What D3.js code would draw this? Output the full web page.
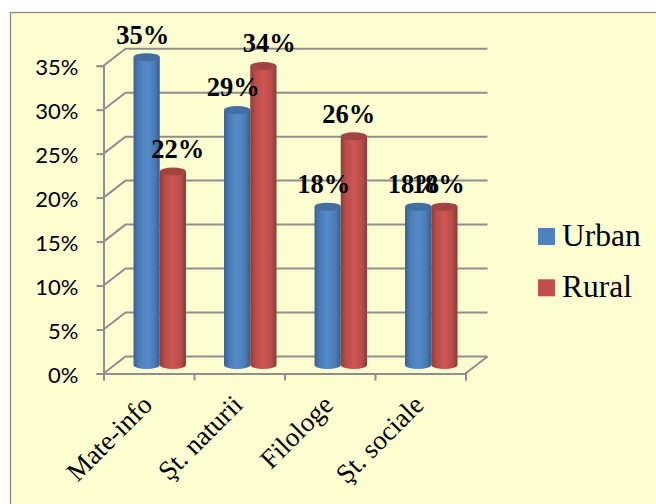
<!DOCTYPE html>
<html>
<head>
<meta charset="utf-8">
<script src="https://cdn.jsdelivr.net/npm/d3@7"></script>
<style>
  html, body { margin: 0; padding: 0; background: #fff; }
  svg { display: block; }
</style>
</head>
<body>
<div id="chart"></div>
<script>
// Chart values
var categories = ["Mate-info", "Şt. naturii", "Filologe", "Şt. sociale"];
var urban = [35, 29, 18, 18];
var rural = [22, 34, 26, 18];
var seriesNames = ["Urban", "Rural"];
var yTicks = [0, 5, 10, 15, 20, 25, 30, 35];

// hand-placed label shifts, same as in the source chart
var urbanLabelShift = [-4, -4, -4, -4];
var ruralLabelShift = [5, 6, -5, -6];

var width = 656, height = 504;
var colors = { Urban: "#4f81bd", Rural: "#c0504d" };
var gridColor = "#8e8e8e";
var depthX = 22, depthY = 17;
var plot = { left: 103.5, right: 465.5, top: 65.7, bottom: 373.5 };

var svg = d3.select("#chart").append("svg")
  .attr("width", width)
  .attr("height", height);

var defs = svg.append("defs");
seriesNames.forEach(function(name) {
  var base = d3.color(colors[name]);
  var grad = defs.append("linearGradient").attr("id", "grad" + name);
  grad.append("stop").attr("offset", "0%").attr("stop-color", base.darker(0.8));
  grad.append("stop").attr("offset", "20%").attr("stop-color", base.darker(0.1));
  grad.append("stop").attr("offset", "50%").attr("stop-color", base.brighter(0.2));
  grad.append("stop").attr("offset", "80%").attr("stop-color", base.darker(0.1));
  grad.append("stop").attr("offset", "100%").attr("stop-color", base.darker(0.9));
});

// Background panel
svg.append("rect")
  .attr("x", 10.5).attr("y", 12.5)
  .attr("width", width + 20).attr("height", height + 20)
  .attr("fill", "#fcfed2")
  .attr("stroke", "#8a8a8a")
  .attr("stroke-width", 1.3);

// Scales
var yScale = d3.scaleLinear().domain([0, 35]).range([plot.bottom, plot.top]);
var xEdge = d3.scaleLinear().domain([0, categories.length]).range([plot.left, plot.right]);

// bars stand half way into the depth of the floor
var xBand = d3.scaleBand()
  .domain(categories)
  .range([plot.left + depthX / 2, plot.right + depthX / 2])
  .paddingInner(0.42)
  .paddingOuter(0.21);
var xInner = d3.scaleBand().domain(seriesNames).range([0, xBand.bandwidth()]);

// Back wall and side wall grid
var grid = svg.append("g")
  .attr("fill", "none")
  .attr("stroke", gridColor)
  .attr("stroke-width", 2);

yTicks.forEach(function(t) {
  var y = yScale(t);
  grid.append("path")
    .attr("d", d3.line()([
      [plot.left, y],
      [plot.left + depthX, y - depthY],
      [plot.right + depthX, y - depthY]
    ]));
});

// floor edge on the right
grid.append("path")
  .attr("d", d3.line()([
    [plot.right, plot.bottom],
    [plot.right + depthX, plot.bottom - depthY]
  ]));

// Axes
var yAxis = d3.axisLeft(yScale)
  .tickValues(yTicks)
  .tickSize(7)
  .tickPadding(18)
  .tickFormat(function(d) { return d + "%"; });

var xAxis = d3.axisBottom(xEdge)
  .ticks(categories.length)
  .tickSize(7)
  .tickFormat("");

var yAxisG = svg.append("g")
  .attr("transform", "translate(" + plot.left + ",0)")
  .call(yAxis);

var xAxisG = svg.append("g")
  .attr("transform", "translate(0," + plot.bottom + ")")
  .call(xAxis);

svg.selectAll(".domain, .tick line")
  .attr("stroke", gridColor)
  .attr("stroke-width", 2);

yAxisG.selectAll("text")
  .attr("font-family", "Lato")
  .attr("font-size", "22px")
  .attr("fill", "#000")
  .attr("dy", "0.4em");

// Category labels
svg.selectAll(".catLabel")
  .data(categories)
  .enter()
  .append("text")
  .attr("class", "catLabel")
  .attr("transform", function(d, i) {
    return "translate(" + (xEdge(i + 0.5) + 5) + "," + (plot.bottom + 33) + ") rotate(-45)";
  })
  .attr("text-anchor", "end")
  .attr("font-family", "Liberation Serif")
  .attr("font-size", "27px")
  .attr("fill", "#000")
  .text(function(d) { return d; });

// Cylinders
var zeroY = yScale(0) - depthY / 2;
function cylinderTop(v) { return yScale(v) - depthY / 2; }

function drawSeries(name, values) {
  var rx = xInner.bandwidth() / 2, ry = 4;
  var g = svg.append("g").attr("class", "series" + name);
  var bars = g.selectAll("g")
    .data(values)
    .enter()
    .append("g")
    .attr("transform", function(d, i) {
      return "translate(" + (xBand(categories[i]) + xInner(name)) + ",0)";
    });

  bars.append("path")
    .attr("fill", "url(#grad" + name + ")")
    .attr("d", function(d) {
      var top = cylinderTop(d);
      return "M0," + top + "V" + zeroY +
        "A" + rx + "," + ry + " 0 0 0 " + (2 * rx) + "," + zeroY +
        "V" + top + "Z";
    });

  bars.append("ellipse")
    .attr("cx", rx)
    .attr("cy", function(d) { return cylinderTop(d); })
    .attr("rx", rx)
    .attr("ry", ry)
    .attr("fill", d3.color(colors[name]).darker(0.45));
}

drawSeries("Urban", urban);
drawSeries("Rural", rural);

// Value labels
function drawLabels(name, values, shift) {
  svg.selectAll(".label" + name)
    .data(values)
    .enter()
    .append("text")
    .attr("class", "label" + name)
    .attr("x", function(d, i) {
      return xBand(categories[i]) + xInner(name) + xInner.bandwidth() / 2 + shift[i];
    })
    .attr("y", function(d) { return cylinderTop(d) - 13.5; })
    .attr("text-anchor", "middle")
    .attr("font-family", "Liberation Serif")
    .attr("font-weight", "bold")
    .attr("font-size", "26.5px")
    .attr("fill", "#000")
    .text(function(d) { return d + "%"; });
}

drawLabels("Urban", urban, urbanLabelShift);
drawLabels("Rural", rural, ruralLabelShift);

// Legend
var legend = svg.selectAll(".legendItem")
  .data(seriesNames)
  .enter()
  .append("g")
  .attr("class", "legendItem")
  .attr("transform", function(d, i) { return "translate(538," + (228 + i * 51.3) + ")"; });

legend.append("rect")
  .attr("width", 17)
  .attr("height", 17)
  .attr("fill", function(d) { return colors[d]; });

legend.append("text")
  .attr("x", 24)
  .attr("y", 18)
  .attr("font-family", "Liberation Serif")
  .attr("font-size", "31.5px")
  .attr("fill", "#000")
  .text(function(d) { return d; });
</script>
</body>
</html>
